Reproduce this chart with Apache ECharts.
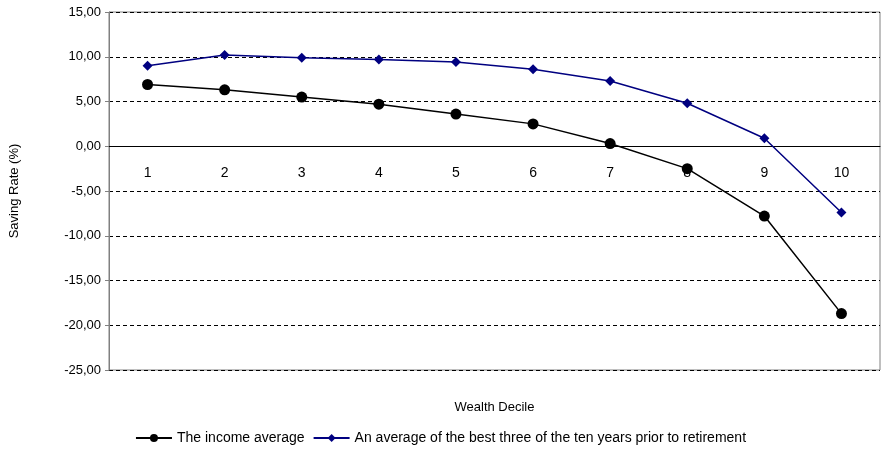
<!DOCTYPE html>
<html>
<head>
<meta charset="utf-8">
<script src="https://cdn.jsdelivr.net/npm/echarts@6/dist/echarts.min.js"></script>
</head>
<body style="margin:0;background:#fff">
<div id="chart" style="width:881px;height:473px"></div>
<script>
var deciles = ['1', '2', '3', '4', '5', '6', '7', '8', '9', '10'];
var incomeAvg = [6.9, 6.3, 5.5, 4.7, 3.6, 2.5, 0.3, -2.5, -7.8, -18.7];
var bestThree = [9.0, 10.2, 9.9, 9.7, 9.4, 8.6, 7.3, 4.8, 0.9, -7.4];

var myChart = echarts.init(document.getElementById('chart'));
var font = 'Liberation Sans, Arial, sans-serif';
var gridTop = 12, gridBottom = 103, yMin = -25, yMax = 15;
var plotH = 473 - gridTop - gridBottom;
var zeroOffset = -plotH * (0 - yMin) / (yMax - yMin); // x axis drawn at y = 0
var option = {
    animation: false,
    textStyle: {fontFamily: font, color: '#000'},
    grid: {left: 103, right: 1, top: gridTop, bottom: gridBottom, show: true, borderColor: '#808080', borderWidth: 1},
    legend: {
        bottom: 23, left: 'center', itemGap: 8, itemWidth: 36, itemHeight: 10,
        textStyle: {fontSize: 14, color: '#000', fontFamily: font},
        data: ['The income average', 'An average of the best three of the ten years prior to retirement']
    },
    xAxis: [{
        type: 'category', data: deciles, boundaryGap: true, position: 'bottom', offset: zeroOffset,
        axisLine: {onZero: false, lineStyle: {color: '#000'}},
        axisTick: {show: false},
        axisLabel: {fontSize: 14, color: '#000', margin: 20}
    }, {
        type: 'category', data: deciles, position: 'bottom',
        name: 'Wealth Decile', nameLocation: 'middle', nameGap: 31,
        nameTextStyle: {fontSize: 13},
        axisLine: {show: false}, axisTick: {show: false}, axisLabel: {show: false}
    }],
    yAxis: {
        type: 'value', min: yMin, max: yMax, interval: 5,
        name: 'Saving Rate (%)', nameLocation: 'middle', nameGap: 88, nameRotate: 90,
        nameTextStyle: {fontSize: 13},
        axisLine: {show: true, lineStyle: {color: '#808080'}},
        axisTick: {show: true, length: 4, lineStyle: {color: '#808080'}},
        axisLabel: {fontSize: 13, color: '#000', formatter: function (v) { return v.toFixed(2).replace('.', ','); }},
        splitLine: {lineStyle: {color: '#000', type: [4, 3]}}
    },
    series: [
        {
            name: 'The income average', type: 'line', data: incomeAvg,
            symbol: 'circle', symbolSize: 11,
            lineStyle: {color: '#000', width: 1.5}, itemStyle: {color: '#000'}
        },
        {
            name: 'An average of the best three of the ten years prior to retirement', type: 'line', data: bestThree,
            symbol: 'diamond', symbolSize: 10,
            lineStyle: {color: '#000080', width: 1.5}, itemStyle: {color: '#000080'}
        }
    ]
};
myChart.setOption(option);
</script>
</body>
</html>
